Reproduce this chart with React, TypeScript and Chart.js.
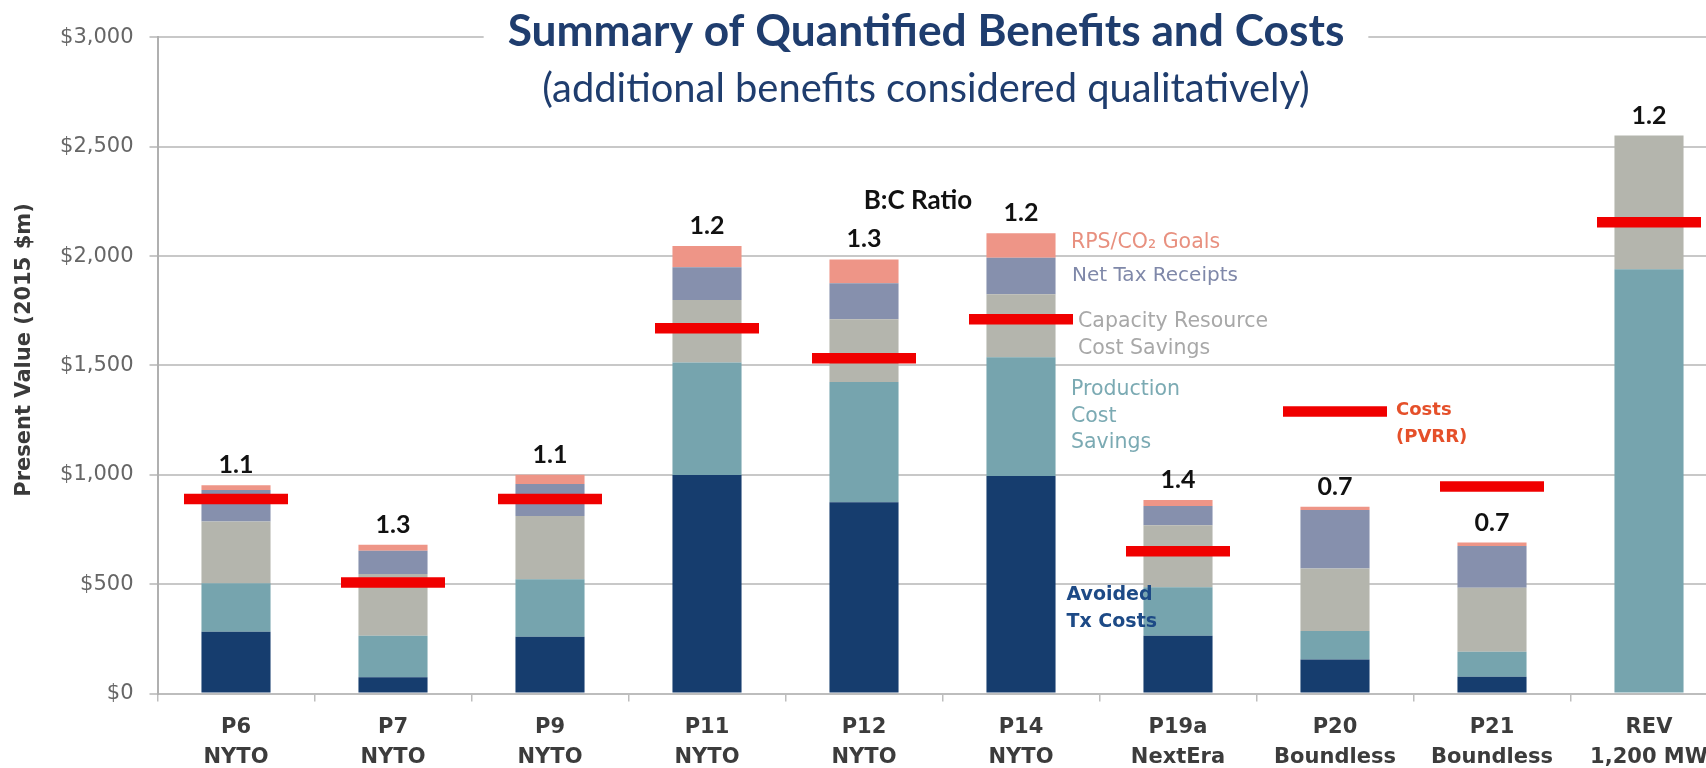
import React, { useEffect, useRef } from "react";
import { Chart, registerables } from "chart.js";

Chart.register(...registerables);

// ---------- data ----------
const categories: string[][] = [
  ["P6", "NYTO"],
  ["P7", "NYTO"],
  ["P9", "NYTO"],
  ["P11", "NYTO"],
  ["P12", "NYTO"],
  ["P14", "NYTO"],
  ["P19a", "NextEra"],
  ["P20", "Boundless"],
  ["P21", "Boundless"],
  ["REV", "1,200 MW"],
];
const avoidedTxCosts = [282, 74, 260, 999, 874, 994, 264, 156, 77, 0];
const productionCostSavings = [222, 190, 262, 514, 550, 543, 222, 130, 114, 1940];
const capacityResourceSavings = [282, 282, 290, 286, 287, 288, 283, 286, 293, 611];
const netTaxReceipts = [144, 107, 146, 150, 165, 168, 88, 267, 190, 0];
const rpsCo2Goals = [22, 27, 42, 97, 109, 111, 28, 15, 16, 0];
const costsPVRR = [889, 508, 889, 1670, 1533, 1711, 650, 1289, 946, 2155];
const bcRatios = ["1.1", "1.3", "1.1", "1.2", "1.3", "1.2", "1.4", "0.7", "0.7", "1.2"];
const yTickValues = [0, 500, 1000, 1500, 2000, 2500, 3000];

const titleText = "Summary of Quantified Benefits and Costs";
const subtitleText = "(additional benefits considered qualitatively)";
const yAxisTitle = "Present Value (2015 $m)";

// ---------- styles ----------
const COLORS = {
  navy: "#163D6E",
  teal: "#76A4AE",
  gray: "#B4B5AD",
  purple: "#8690AD",
  salmon: "#EE9587",
  red: "#F00000",
  titleBlue: "#1F3D6E",
};

const CANVAS_W = 1740;
const CANVAS_H = 768;
const AREA_LEFT = 157.5;
const AREA_RIGHT = 1727.5;
const AREA_TOP = 37.4;
const AREA_BOTTOM = 693.5;

type Annot = {
  lines: string[];
  color: string;
  anchor: number; // category index
  dx: number; // px offset from category centre
  values: number[]; // y value for each line (middle)
  font: string;
  align?: CanvasTextAlign;
};

const annotations: Annot[] = [
  { lines: ["B:C Ratio"], color: "#111111", anchor: 4, dx: 54, values: [2252], font: "bold 26px Lato", align: "center" },
  { lines: ["RPS/CO\u2082 Goals"], color: "#E8907F", anchor: 5, dx: 50, values: [2060], font: "20.5px 'DejaVu Sans'" },
  { lines: ["Net Tax Receipts"], color: "#7F88A9", anchor: 5, dx: 51, values: [1909], font: "20px 'DejaVu Sans'" },
  { lines: ["Capacity Resource", "Cost Savings"], color: "#A8A8A8", anchor: 5, dx: 57, values: [1699, 1575], font: "20.5px 'DejaVu Sans'" },
  { lines: ["Production", "Cost", "Savings"], color: "#7BAAB3", anchor: 5, dx: 50, values: [1388, 1265, 1146], font: "20.5px 'DejaVu Sans'" },
  { lines: ["Avoided", "Tx Costs"], color: "#1D4A86", anchor: 5, dx: 45.5, values: [450, 327], font: "bold 19px 'DejaVu Sans'" },
  { lines: ["Costs", "(PVRR)"], color: "#E5502A", anchor: 7, dx: 61, values: [1296, 1173], font: "bold 18px 'DejaVu Sans'" },
];

const overlayPlugin = {
  id: "overlay",
  afterDatasetsDraw(chart: any) {
    const ctx: CanvasRenderingContext2D = chart.ctx;
    const xs = chart.scales.x;
    const ys = chart.scales.y;
    ctx.save();
    // B:C ratio labels above stacks
    ctx.font = "bold 25px Lato";
    ctx.fillStyle = "#111111";
    ctx.textAlign = "center";
    ctx.textBaseline = "alphabetic";
    bcRatios.forEach((label, i) => {
      const total =
        avoidedTxCosts[i] + productionCostSavings[i] + capacityResourceSavings[i] + netTaxReceipts[i] + rpsCo2Goals[i];
      const x = xs.getPixelForValue(i);
      const y = ys.getPixelForValue(total) - 12;
      ctx.fillText(label, x, y);
    });
    // in-chart legend annotations
    annotations.forEach((a) => {
      ctx.font = a.font;
      ctx.fillStyle = a.color;
      ctx.textAlign = a.align || "left";
      ctx.textBaseline = "middle";
      a.lines.forEach((line, k) => {
        const x = xs.getPixelForValue(a.anchor) + a.dx;
        const y = ys.getPixelForValue(a.values[k]);
        ctx.fillText(line, x, y);
      });
    });
    ctx.restore();
  },
  afterDraw(chart: any) {
    const ctx: CanvasRenderingContext2D = chart.ctx;
    ctx.save();
    const cx = 926;
    // title (fit to reference width)
    let size = 44;
    ctx.font = `bold ${size}px Lato`;
    let w = ctx.measureText(titleText).width;
    size = (size * 837) / w;
    ctx.font = `bold ${size}px Lato`;
    w = ctx.measureText(titleText).width;
    ctx.fillStyle = "#ffffff";
    ctx.fillRect(cx - w / 2 - 24, 28, w + 48, 20);
    ctx.fillStyle = COLORS.titleBlue;
    ctx.textAlign = "center";
    ctx.textBaseline = "alphabetic";
    ctx.fillText(titleText, cx, 46);
    // subtitle
    let s2 = 36;
    ctx.font = `${s2}px Lato`;
    const w2 = ctx.measureText(subtitleText).width;
    s2 = (s2 * 768) / w2;
    ctx.font = `${s2}px Lato`;
    ctx.fillText(subtitleText, cx, 102);
    // y axis title
    ctx.translate(25, 350);
    ctx.rotate(-Math.PI / 2);
    ctx.font = "bold 21px 'DejaVu Sans'";
    ctx.fillStyle = "#3A3A3A";
    ctx.textBaseline = "middle";
    ctx.fillText(yAxisTitle, 0, 0);
    ctx.restore();
  },
};

export default function App() {
  const ref = useRef<HTMLCanvasElement>(null);
  useEffect(() => {
    if (!ref.current) return;
    const barCommon = {
      type: "bar" as const,
      barPercentage: 0.44,
      categoryPercentage: 1,
      order: 1,
      stack: "benefits",
      borderWidth: 0,
    };
    const chart = new Chart(ref.current, {
      type: "bar",
      data: {
        labels: categories,
        datasets: [
          { ...barCommon, label: "Avoided Tx Costs", data: avoidedTxCosts, backgroundColor: COLORS.navy },
          { ...barCommon, label: "Production Cost Savings", data: productionCostSavings, backgroundColor: COLORS.teal },
          { ...barCommon, label: "Capacity Resource Cost Savings", data: capacityResourceSavings, backgroundColor: COLORS.gray },
          { ...barCommon, label: "Net Tax Receipts", data: netTaxReceipts, backgroundColor: COLORS.purple },
          { ...barCommon, label: "RPS/CO2 Goals", data: rpsCo2Goals, backgroundColor: COLORS.salmon },
          {
            type: "line" as const,
            label: "Costs (PVRR)",
            data: costsPVRR,
            stack: "costs",
            order: 0,
            showLine: false,
            pointStyle: "line",
            pointRadius: 52,
            pointHoverRadius: 52,
            pointBorderWidth: 10.5,
            pointHoverBorderWidth: 10.5,
            borderColor: COLORS.red,
            backgroundColor: COLORS.red,
          } as any,
        ],
      },
      options: {
        responsive: false,
        animation: false,
        devicePixelRatio: 1,
        layout: {
          autoPadding: false,
          padding: { top: AREA_TOP, right: CANVAS_W - AREA_RIGHT, left: 0, bottom: 0 },
        },
        plugins: {
          legend: { display: false },
          tooltip: { enabled: false },
          title: { display: false },
        },
        scales: {
          x: {
            stacked: true,
            offset: true,
            grid: {
              offset: true,
              drawOnChartArea: false,
              drawTicks: true,
              tickLength: 8,
              color: "#BDBDBD",
              lineWidth: 1.5,
            },
            border: { display: true, color: "#BDBDBD", width: 2 },
            ticks: {
              autoSkip: false,
              maxRotation: 0,
              padding: 11.5,
              color: "#3C3C3C",
              font: { family: "'DejaVu Sans'", weight: "bold", size: 21, lineHeight: 30 / 21 },
            },
            afterFit: (scale: any) => {
              scale.height = CANVAS_H - AREA_BOTTOM;
            },
          },
          y: {
            stacked: true,
            min: 0,
            max: 3000,
            afterBuildTicks: (scale: any) => {
              scale.ticks = yTickValues.map((v) => ({ value: v }));
            },
            ticks: {
              padding: 16,
              color: "#666666",
              font: { family: "'DejaVu Sans'", size: 21 },
              callback: (v: any) => "$" + Number(v).toLocaleString("en-US"),
            },
            grid: {
              color: "#C8C8C8",
              lineWidth: 2,
              drawTicks: true,
              tickLength: 8,
            },
            border: { display: true, color: "#B0B0B0", width: 2 },
            afterFit: (scale: any) => {
              scale.width = AREA_LEFT;
            },
          },
        },
      },
      plugins: [overlayPlugin],
    } as any);
    return () => chart.destroy();
  }, []);
  return (
    <div
      style={{
        position: "fixed",
        left: 0,
        top: 0,
        width: 1706,
        height: 768,
        overflow: "hidden",
        background: "#ffffff",
      }}
    >
      <canvas ref={ref} width={CANVAS_W} height={CANVAS_H} style={{ display: "block", width: CANVAS_W, height: CANVAS_H }} />
    </div>
  );
}
